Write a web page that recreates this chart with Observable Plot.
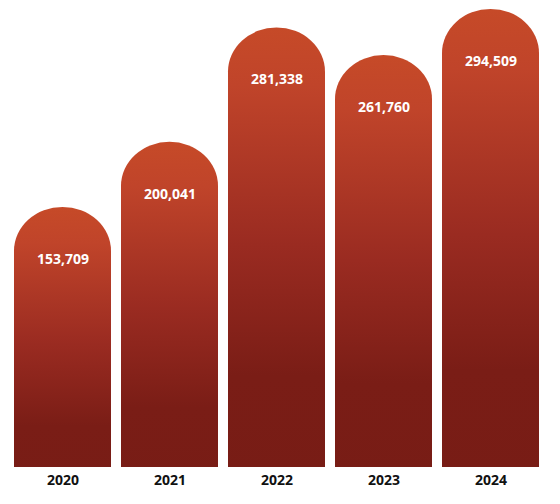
<!DOCTYPE html>
<html>
<head>
<meta charset="utf-8">
<script src="https://cdn.jsdelivr.net/npm/d3@7"></script>
<script src="https://cdn.jsdelivr.net/npm/@observablehq/plot@0.6"></script>
<style>
  html, body { margin: 0; padding: 0; background: #fff; }
  #chart { width: 560px; height: 504px; }
</style>
</head>
<body>
<div id="chart"></div>
<script>
const years = ["2020", "2021", "2022", "2023", "2024"];
const values = [153709, 200041, 281338, 261760, 294509];

const data = years.map((year, i) => ({year, value: values[i]}));

const domeX = 49, domeY = 44;

const plot = Plot.plot({
  width: 560,
  height: 504,
  marginLeft: 14,
  marginRight: 20,
  marginTop: 0,
  marginBottom: 37,
  style: {background: "#fff", fontFamily: "'Open Sans', sans-serif"},
  x: {domain: years, paddingInner: 0.09, paddingOuter: 0, label: null},
  y: {domain: [0, d3.max(values)], range: [467, 53], axis: null},
  marks: [
    Plot.barY(data, {
      x: "year", y: "value",
      fill: "url(#barGrad)",
      rx: domeX, ry: domeY,
      insetTop: -domeY, insetBottom: -domeY,
      clip: true
    }),
    Plot.text(data, {
      x: "year", y: "value",
      text: d => d3.format(",")(d.value),
      dy: 8,
      fill: "white",
      fontSize: 14,
      fontWeight: "bold"
    }),
    Plot.axisX({
      tickSize: 0,
      tickPadding: 8,
      fontSize: 14,
      fontWeight: "bold",
      color: "#111",
      label: null
    })
  ]
});

const svg = d3.select(plot);
const defs = svg.insert("defs", ":first-child");
const grad = defs.append("linearGradient")
  .attr("id", "barGrad")
  .attr("x1", 0).attr("y1", 0).attr("x2", 0).attr("y2", 1);
grad.append("stop").attr("offset", "0").attr("stop-color", "#c64a28");
grad.append("stop").attr("offset", "0.12").attr("stop-color", "#c0442a");
grad.append("stop").attr("offset", "0.45").attr("stop-color", "#9a2b21");
grad.append("stop").attr("offset", "0.72").attr("stop-color", "#7a1d16");
grad.append("stop").attr("offset", "1").attr("stop-color", "#771c15");

document.getElementById("chart").appendChild(plot);
</script>
</body>
</html>
